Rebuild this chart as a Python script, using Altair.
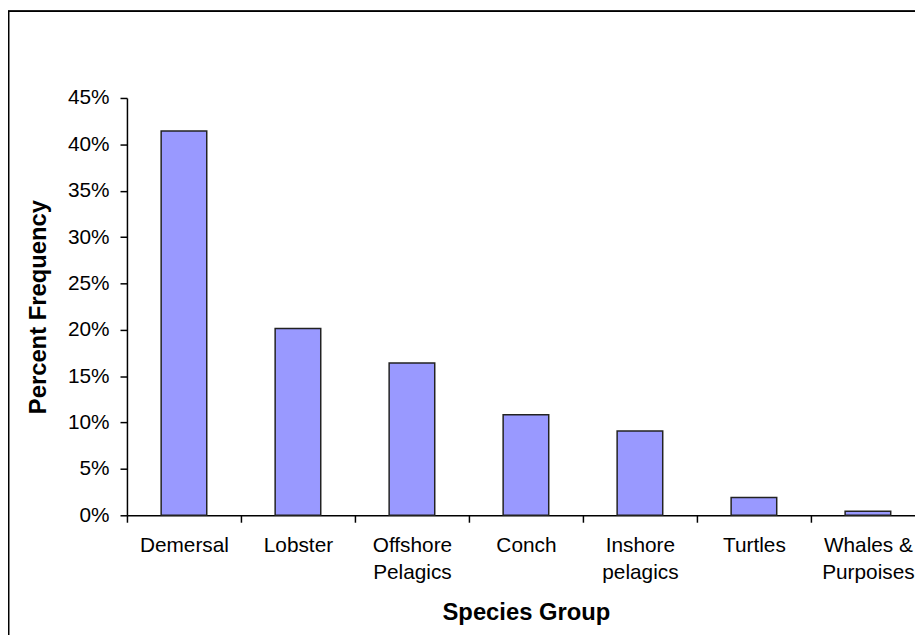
import altair as alt
import pandas as pd

categories = ["Demersal", "Lobster", "Offshore Pelagics", "Conch",
              "Inshore pelagics", "Turtles", "Whales & Purpoises"]
percent = [0.4144, 0.2013, 0.1643, 0.1083, 0.0908, 0.0192, 0.0043]

df = pd.DataFrame({"group": categories, "pct": percent})

W, H = 795, 421
FONT = "Liberation Sans"

x_enc = alt.X(
    "group:N",
    sort=categories,
    scale=alt.Scale(range=[0, 805], paddingInner=0, paddingOuter=0),
    axis=alt.Axis(
        title="Species Group",
        titleFontSize=24,
        titleFontWeight="bold",
        titleFont=FONT,
        titleColor="black",
        titleBaseline="alphabetic",
        titleY=105,
        titleX=402.5,
        labelAngle=0,
        labelFont=FONT,
        labelFontSize=21,
        labelColor="black",
        labelPadding=13,
        labelLineHeight=27,
        labelBaseline="top",
        labelExpr="isValid(datum.value) ? split(replace(datum.value, ' &', '\u00a0&'), ' ') : ''",
        tickBand="extent",
        tickSize=7,
        tickColor="black",
        domainColor="black",
        domainWidth=1.5,
        tickWidth=1.5,
        grid=False,
    ),
)

y_enc = alt.Y(
    "pct:Q",
    scale=alt.Scale(domain=[0, 0.45], nice=False),
    axis=alt.Axis(
        title="Percent Frequency",
        titleFontSize=24,
        titleFontWeight="bold",
        titleFont=FONT,
        titleColor="black",
        titleAngle=270,
        titleBaseline="alphabetic",
        titleX=-82,
        titleY=H / 2,
        values=[i * 0.05 for i in range(10)],
        format=".0%",
        labelFont=FONT,
        labelFontSize=21,
        labelColor="black",
        labelPadding=11,
        tickSize=7,
        tickColor="black",
        domainColor="black",
        domainWidth=1.5,
        tickWidth=1.5,
        grid=False,
    ),
)

bars = alt.Chart(df).mark_bar(
    width={"band": 0.4}, color="#9999FF", stroke="#222222", strokeWidth=1.5
).encode(x=x_enc, y=y_enc)

frame = alt.Chart(df).mark_rect(
    fill=None, stroke="black", strokeWidth=1.2
).encode(
    x=alt.value(-119.5), x2=alt.value(W + 40),
    y=alt.value(-87.5), y2=alt.value(H + 160),
)

chart = alt.layer(bars, frame).properties(
    width=W, height=H,
    autosize=alt.AutoSizeParams(type="none"),
    padding={"left": 120, "top": 88, "right": 0, "bottom": 118},
).configure_view(stroke=None)

chart.save("out.html", embed_options={"renderer": "svg", "actions": False})
